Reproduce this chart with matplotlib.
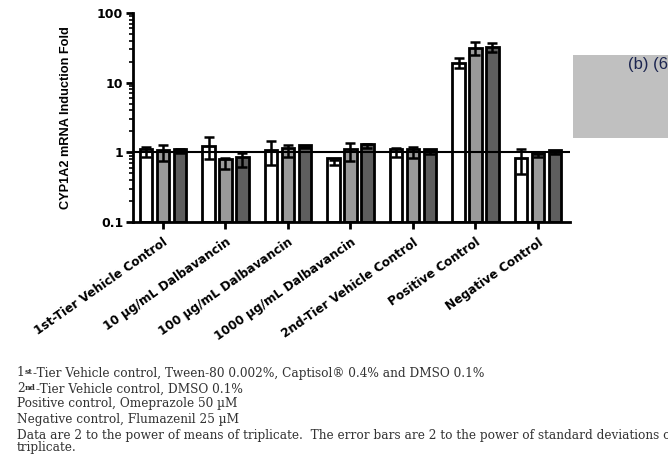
import numpy as np
import matplotlib
matplotlib.use("Agg")
import matplotlib.pyplot as plt
from matplotlib.patches import Rectangle
from matplotlib.text import Annotation

# CYP1A2 induction, three donors per treatment (fold, 2^mean), upper error = 2^(mean+sd)
groups = ["1st-Tier Vehicle Control", "10 µg/mL Dalbavancin", "100 µg/mL Dalbavancin",
          "1000 µg/mL Dalbavancin", "2nd-Tier Vehicle Control", "Positive Control",
          "Negative Control"]
donor1 = [1.0, 1.14, 0.97, 0.72, 1.0, 19.0, 0.74]
donor1_hi = [1.18, 1.64, 1.44, 0.78, 1.15, 22.5, 1.12]
donor2 = [0.97, 0.69, 1.04, 1.0, 1.0, 31.0, 0.9]
donor2_hi = [1.26, 0.82, 1.27, 1.35, 1.2, 38.0, 0.95]
donor3 = [1.03, 0.77, 1.17, 1.22, 1.0, 32.0, 0.97]
donor3_hi = [1.1, 0.97, 1.2, 1.3, 1.05, 37.0, 1.0]

yticks = [0.1, 1, 10, 100]
yticklabels = ["0.1", "1", "10", "100"]

# footnotes: (lead, superscript, rest)
notes = [
    ("1", "st", "-Tier Vehicle control, Tween-80 0.002%, Captisol® 0.4% and DMSO 0.1%"),
    ("2", "nd", "-Tier Vehicle control, DMSO 0.1%"),
    ("", "", "Positive control, Omeprazole 50 µM"),
    ("", "", "Negative control, Flumazenil 25 µM"),
    ("", "", "Data are 2 to the power of means of triplicate.  The error bars are 2 to the power of standard deviations of"),
    ("", "", "triplicate."),
]

fig = plt.figure(figsize=(6.68, 4.58), dpi=100)
ax = fig.add_axes([0.199, 0.5153, 0.654, 0.4563])

x = np.arange(len(groups))
offset = 0.27
width = 0.2
series = [(donor1, donor1_hi, "white"), (donor2, donor2_hi, "#9a9a9a"), (donor3, donor3_hi, "#5e5e5e")]
for i, (vals, hi, col) in enumerate(series):
    vals = np.array(vals)
    hi = np.array(hi)
    lo = vals * vals / hi
    pos = x + (i - 1) * offset
    ax.bar(pos, vals, width, bottom=0.1, color=col, edgecolor="black", linewidth=2.0, zorder=2)
    ax.errorbar(pos, vals, yerr=[vals - lo, hi - vals], fmt="none", ecolor="black",
                elinewidth=1.8, capsize=3.5, capthick=1.8, zorder=3)

ax.axhline(1, color="black", linewidth=1.5, zorder=4)

ax.set_yscale("log")
ax.set_ylim(0.1, 100)
ax.set_xlim(-0.48, 6.51)
ax.set_yticks(yticks)
ax.set_yticklabels(yticklabels, fontsize=9, fontweight="bold", family="DejaVu Sans")
ax.set_xticks(x)
ax.set_xticklabels(groups, rotation=35, ha="right", rotation_mode="anchor",
                   fontsize=8.7, fontweight="bold", family="DejaVu Sans")
ax.set_ylabel("CYP1A2 mRNA Induction Fold", fontsize=9.2, fontweight="bold",
              family="Liberation Sans", labelpad=18)

for side in ["top", "right"]:
    ax.spines[side].set_visible(False)
for side in ["left", "bottom"]:
    ax.spines[side].set_linewidth(2)
ax.tick_params(axis="both", which="major", length=5, width=2, pad=2)
ax.tick_params(axis="x", pad=5)
ax.tick_params(axis="y", which="minor", length=3, width=1.2)

# grey redaction block at the right
fig.patches.append(Rectangle((573 / 668, 1 - 138 / 458), 100 / 668, 83 / 458,
                             transform=fig.transFigure, facecolor="#c0c0c0",
                             edgecolor="none"))
fig.text(628 / 668, 1 - 64 / 458, "(b) (6)", fontsize=12, color="#1c2550",
         family="Liberation Sans", va="center")

# footnotes, superscripts drawn as small raised text
note_y = [373, 389, 404, 419, 435, 447]
fkw = dict(family="DejaVu Serif", color="#333333")
for (lead, sup, rest), yy in zip(notes, note_y):
    if not lead:
        fig.text(17 / 668, 1 - yy / 458, rest, fontsize=8.7, va="center", **fkw)
        continue
    t1 = fig.text(17 / 668, 1 - yy / 458, lead, fontsize=8.7, va="center", **fkw)
    t2 = fig.add_artist(Annotation(sup, xy=(1, 0.9), xycoords=t1, va="top",
                                   fontsize=5.5, fontweight="bold", **fkw))
    fig.add_artist(Annotation(rest, xy=(1, 0), xycoords=(t2, t1), va="bottom",
                              fontsize=8.7, **fkw))

fig.savefig("out.png", dpi=100)
